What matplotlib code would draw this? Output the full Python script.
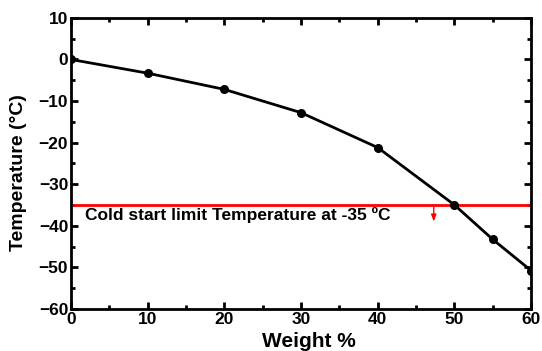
import matplotlib
matplotlib.use("Agg")
import matplotlib.pyplot as plt
from matplotlib.ticker import MultipleLocator

weight = [0, 10, 20, 30, 40, 50, 55, 60]
temperature = [0, -3.3, -7.2, -12.8, -21.2, -35, -43.3, -50.8]
limit_temp = -35
arrow_x = 47.3

plt.rcParams['font.family'] = ['Liberation Sans', 'DejaVu Sans']
plt.rcParams['font.weight'] = 'bold'

fig = plt.figure(figsize=(5.42, 3.51), dpi=100)
ax = fig.add_axes([0.131, 0.120, 0.849, 0.829])

ax.plot(weight, temperature, color='black', lw=2, marker='o', ms=5.5, zorder=3)
ax.axhline(limit_temp, color='red', lw=2, zorder=2)
ax.annotate('', xy=(arrow_x, limit_temp - 4), xytext=(arrow_x, limit_temp),
            arrowprops=dict(arrowstyle='-|>,head_length=0.4,head_width=0.15',
                            color='red', lw=1, shrinkA=0, shrinkB=0))
ax.text(1.8, limit_temp - 2.4, 'Cold start limit Temperature at -35 ºC',
        fontsize=12.5, fontweight='bold', va='center', ha='left')

ax.set_xlim(0, 60)
ax.set_ylim(-60, 10)
ax.xaxis.set_major_locator(MultipleLocator(10))
ax.xaxis.set_minor_locator(MultipleLocator(5))
ax.yaxis.set_major_locator(MultipleLocator(10))
ax.yaxis.set_minor_locator(MultipleLocator(5))
ax.tick_params(which='both', direction='in', top=True, right=True, width=2)
ax.tick_params(which='major', length=5, labelsize=12.5, pad=2)
ax.tick_params(which='minor', length=3)
for s in ax.spines.values():
    s.set_linewidth(2)

ax.set_xlabel('Weight %', fontsize=15, fontweight='bold')
ax.set_ylabel('Temperature (°C)', fontsize=14, fontweight='bold')
ax.xaxis.set_label_coords(0.517, -0.08)
ax.yaxis.set_label_coords(-0.115, 0.467)
ax.yaxis.label.set_va('center')

fig.savefig('out.png', dpi=100)
